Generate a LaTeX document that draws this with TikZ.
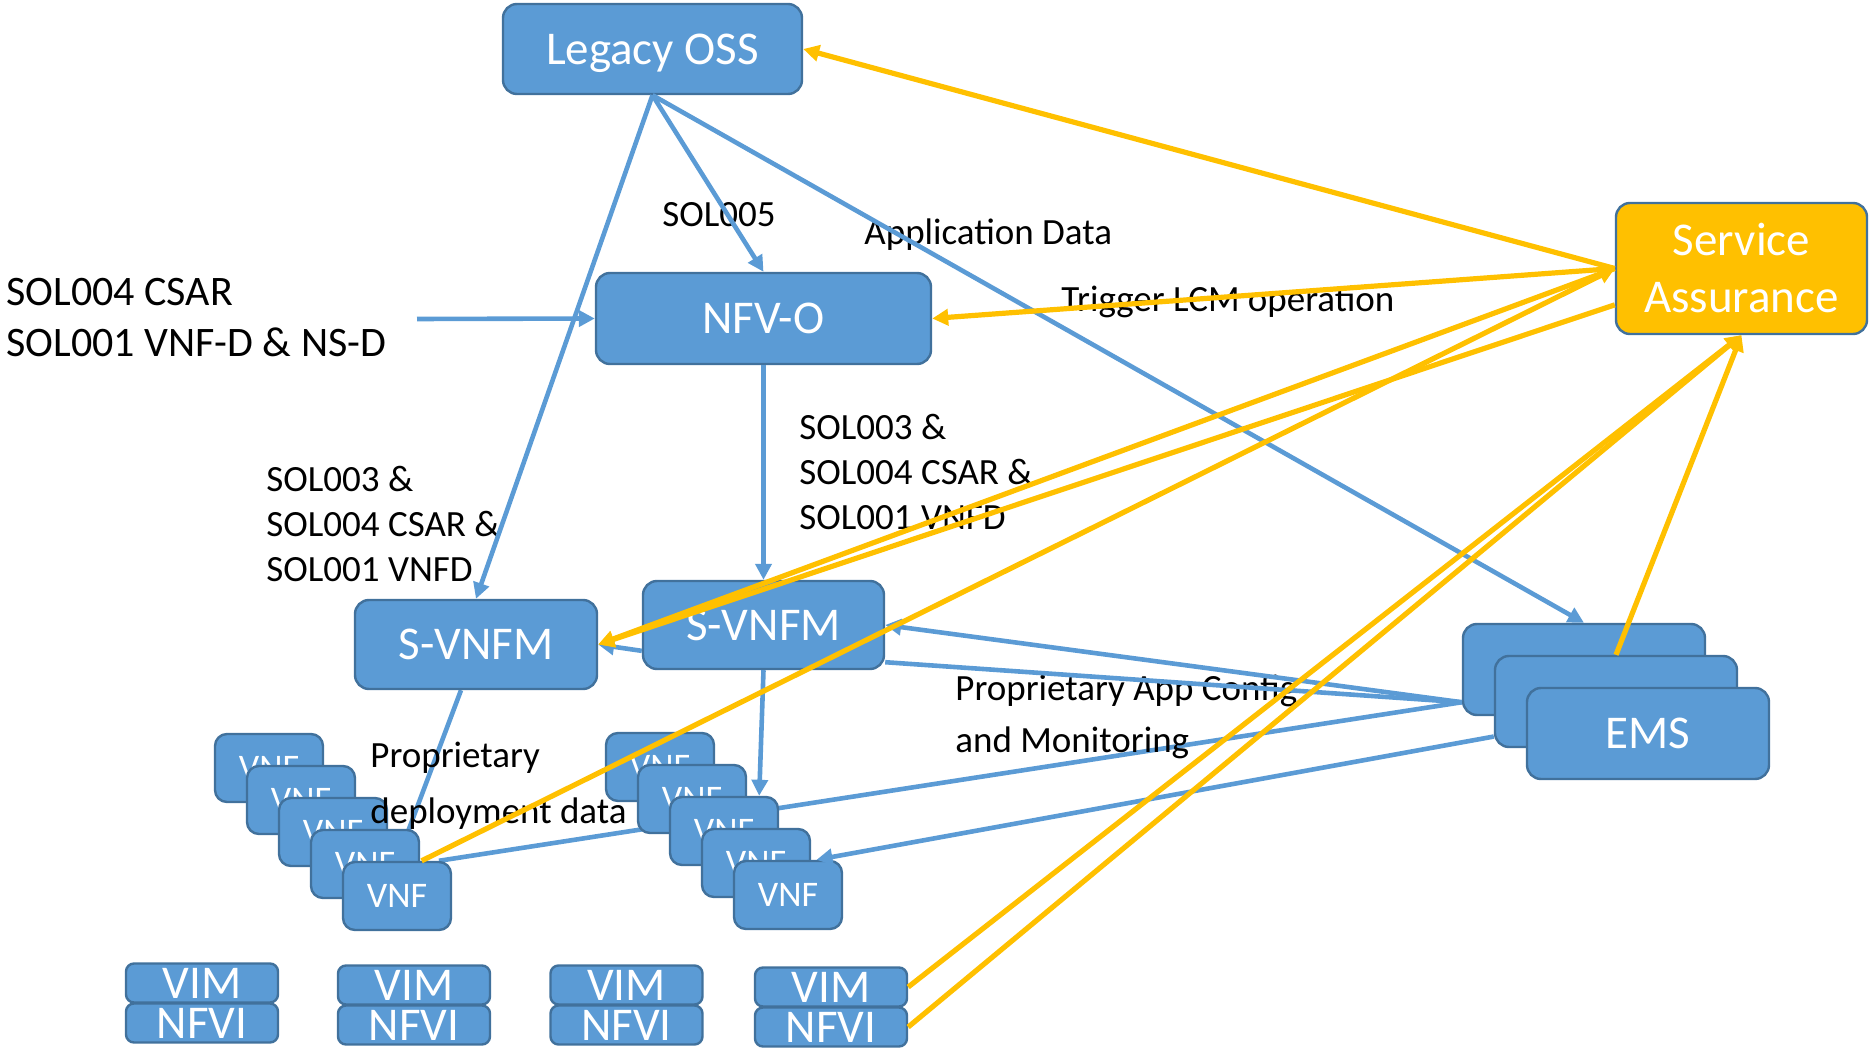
\documentclass[tikz,border=0pt]{standalone}
\usepackage{fontspec}
\setmainfont{Carlito}
\usetikzlibrary{arrows.meta,backgrounds}

\definecolor{nfvblue}{HTML}{5B9BD5}
\definecolor{nfvedge}{HTML}{41719C}
\definecolor{nfvorange}{HTML}{FFC000}

\newcommand{\blockfont}{\fontsize{23.5}{28.5}\selectfont}
\newcommand{\notefont}{\fontsize{18.5}{22.5}\selectfont}

\tikzset{
  block/.style={draw=nfvedge, line width=1.2pt, fill=nfvblue, rounded corners=7pt,
    text=white, align=center, inner sep=0pt, font=\blockfont},
  vnfbox/.style={block, minimum width=54pt, minimum height=34pt, rounded corners=6pt,
    font=\fontsize{18}{20}\selectfont},
  infrabox/.style={block, minimum width=76pt, minimum height=19.5pt, rounded corners=4pt},
  emsbox/.style={block, minimum width=121pt, minimum height=45.5pt},
  note/.style={anchor=west, align=left, inner sep=0pt, font=\notefont},
  bluelink/.style={draw=nfvblue, line width=2.3pt},
  orangelink/.style={draw=nfvorange, line width=2.6pt},
  tipped/.style={-{Triangle[length=8pt, width=8pt]}},
}

\begin{document}
\begin{tikzpicture}[x=0.5pt, y=-0.5pt]
\useasboundingbox (0,0) rectangle (1869,1053);

% Management blocks
\node[block, text depth=0pt, minimum width=149.5pt, minimum height=45pt] (oss) at (652.5,49) {Legacy OSS};
\node[block, fill=nfvorange, minimum width=125.5pt, minimum height=65.5pt] (sa) at (1741.5,268.5) {Service\\Assurance};
\node[block, minimum width=167.5pt, minimum height=45.5pt] (nfvo) at (763.5,318.5) {NFV-O};
\node[block, minimum width=121pt, minimum height=44.5pt] (svnfmL) at (476,644.5) {S-VNFM};
\node[block, minimum width=120.5pt, minimum height=44pt] (svnfmR) at (763.5,625) {S-VNFM};

% VNF stacks
\foreach \i in {1,...,5} {
  \node[vnfbox] (vnfL\i) at ({269+32*(\i-1)},{768+32*(\i-1)}) {VNF};
}
\foreach \i in {1,...,5} {
  \node[vnfbox] (vnfR\i) at ({660+32*(\i-1)},{767+32*(\i-1)}) {VNF};
}

% EMS stack
\node[emsbox] (ems1) at (1584,669.5) {};
\node[emsbox] (ems2) at (1616,701.5) {};
\node[emsbox] (ems3) at (1648,733.5) {EMS};

% VIM / NFVI pairs
\foreach \x/\y [count=\c] in {202/983,414/985,626.5/985,831/987} {
  \node[infrabox] (vim\c) at (\x,\y) {VIM};
  \node[infrabox] (nfvi\c) at (\x,\y+40) {NFVI};
}

% Texts
\node[note, font=\fontsize{21}{25.5}\selectfont] (csar) at (6,318) {SOL004 CSAR\\SOL001 VNF-D \& NS-D};
\node[note] (sol005) at (662,215) {SOL005};
\node[note] (appdata) at (864,235) {Application Data};
\node[note] (trigger) at (1061,302) {Trigger LCM operation};
\node[note] (solR) at (799,472) {SOL003 \&\\SOL004 CSAR \&\\SOL001 VNFD};
\node[note] (solL) at (266,524) {SOL003 \&\\SOL004 CSAR \&\\SOL001 VNFD};
\node[note, font=\fontsize{18.5}{28}\selectfont] (deploy) at (370,786) {Proprietary\\deployment data};
\node[note, font=\fontsize{18.5}{26}\selectfont] (appcfg) at (955,717) {Proprietary App Config\\and Monitoring};

% Links hidden behind the stacks
\begin{scope}[on background layer]
\draw[bluelink] ([xshift=-7.5pt]svnfmL.south) -- (vnfL5.north);
\draw[bluelink] (ems1.195) -- (vnfL5.40);
\end{scope}

% Blue links
\coordinate (csarin) at (417,319);
\draw[bluelink, tipped] (csarin) -- (nfvo.west);
\draw[bluelink, tipped] (oss.south) -- (svnfmL.north);
\draw[bluelink, tipped] (oss.south) -- (nfvo.north);
\draw[bluelink, tipped] (oss.south) -- (ems1.north);
\draw[bluelink, tipped] (nfvo.south) -- (svnfmR.north);
\draw[bluelink, tipped] (svnfmR.192) -- (svnfmL.east);
\draw[bluelink, tipped] (svnfmR.south) -- (vnfR3.45);
\draw[bluelink, tipped] (ems1.195) -- (svnfmR.east);
\draw[bluelink] (ems1.195) -- (svnfmR.343);
\draw[bluelink, tipped] (ems2.196) -- (vnfR5.51);

% Service assurance links
\draw[orangelink, tipped] (sa.west) -- (oss.east);
\draw[orangelink, tipped] (sa.west) -- (nfvo.east);
\draw[orangelink, tipped] (sa.west) -- (svnfmL.east);
\draw[orangelink, tipped] (sa.196) -- (svnfmL.east);
\draw[orangelink, tipped] (vnfL5.55) -- (sa.west);
\draw[orangelink, tipped] (ems2.north) -- (sa.south);
\draw[orangelink, tipped] (vim4.east) -- (sa.south);
\draw[orangelink, tipped] (nfvi4.east) -- (sa.south);
\end{tikzpicture}
\end{document}
